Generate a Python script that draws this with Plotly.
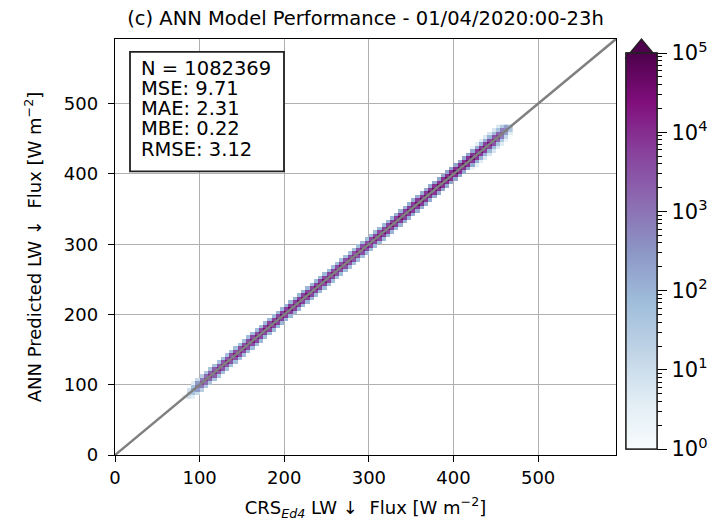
import numpy as np
import plotly.graph_objects as go

# ---------------- data ----------------
title_text = "(c) ANN Model Performance - 01/04/2020:00-23h"
x_label = "CRS<sub><i>Ed4</i></sub> LW ↓  Flux [W m<sup>−2</sup>]"
y_label = "ANN Predicted LW ↓  Flux [W m<sup>−2</sup>]"
stats_lines = ["N = 1082369", "MSE: 9.71", "MAE: 2.31", "MBE: 0.22", "RMSE: 3.12"]

axis_ticks = [0, 100, 200, 300, 400, 500]
axis_max = 592
one_to_one = [0, 600]

# 2D histogram bins (5 W m-2 wide), centres from 82.5 to 467.5
bin_width = 5
bin_centers = list(np.arange(82.5, 470, bin_width))

# counts in the diagonal cell (observed bin == predicted bin)
count_core = [3, 22, 140, 900, 3800, 7800, 11500, 14000, 16500, 18500,
              20500, 21800, 22800, 24000, 25200, 26200, 27300, 28500, 29700, 30800,
              32700, 34500, 36800, 38200, 40200, 41200, 42000, 40800, 39000, 37200,
              35200, 34200, 32200, 30600, 29200, 27300, 25500, 24300, 23200, 22500,
              22200, 22800, 24000, 25800, 27700, 29700, 31500, 33700, 36000, 37800,
              39700, 41700, 43500, 45700, 48000, 50200, 52500, 54300, 56200, 58200,
              60000, 62200, 64200, 65200, 66300, 65700, 63700, 60700, 56700, 51000,
              44200, 36000, 26200, 16500, 8200, 2700, 520, 60]
# counts one bin off the diagonal
count_off1 = [0, 9, 54, 270, 760, 1260, 1710, 2070, 2340, 2610,
              2880, 3060, 3240, 3420, 3600, 3780, 3960, 4140, 4320, 4500,
              4770, 5040, 5310, 5580, 5850, 5940, 6030, 5850, 5670, 5400,
              5130, 4950, 4680, 4410, 4230, 3960, 3690, 3510, 3330, 3240,
              3200, 3290, 3460, 3690, 3960, 4230, 4500, 4860, 5130, 5400,
              5670, 5940, 6210, 6480, 6840, 7110, 7380, 7650, 7920, 8190,
              8460, 8730, 9000, 9180, 9360, 9270, 9000, 8640, 8100, 7380,
              6480, 5400, 4140, 2880, 1620, 680, 220, 36]
# counts two bins off the diagonal
count_off2 = [0, 1, 4, 12, 25, 35, 42, 48, 52, 55,
              58, 60, 62, 64, 66, 68, 70, 72, 74, 76,
              80, 84, 88, 92, 96, 98, 100, 98, 94, 90,
              86, 83, 80, 76, 73, 70, 67, 65, 62, 61,
              60, 62, 65, 68, 72, 76, 80, 85, 90, 95,
              100, 105, 110, 115, 120, 126, 132, 138, 144, 150,
              156, 162, 168, 172, 175, 172, 168, 160, 150, 138,
              125, 110, 92, 72, 52, 32, 14, 4]
# counts three bins off the diagonal (only the upper end of the range)
count_off3 = [0, 0, 0, 0, 0, 0, 0, 0, 0, 0,
              0, 0, 0, 0, 0, 0, 0, 0, 0, 0,
              0, 0, 0, 0, 0, 0, 0, 0, 0, 0,
              0, 0, 0, 0, 0, 0, 0, 0, 0, 0,
              0, 0, 0, 0, 0, 0, 0, 0, 0, 0,
              0, 0, 0, 0, 0, 0, 0, 0, 0, 0,
              0, 0, 0, 0, 0, 0, 0, 0, 2, 3,
              4, 5, 6, 6, 5, 4, 2, 1]

cbar_exponents = [0, 1, 2, 3, 4, 5]
cbar_minor_mantissas = [2, 3, 4, 5, 6, 7, 8, 9]

bupu = ["#f7fcfd", "#e0ecf4", "#bfd3e6", "#9ebcda", "#8c96c6",
        "#8c6bb1", "#88419d", "#810f7c", "#4d004b"]

# ---------------- build the 2D histogram grid ----------------
n = len(bin_centers)
z = [[None] * n for _ in range(n)]
for i in range(n):
    for k, arr in ((0, count_core), (1, count_off1), (2, count_off2), (3, count_off3)):
        if arr[i] <= 0:
            continue
        for s in ((0,) if k == 0 else (1, -1)):
            j = i + s * k
            if 0 <= j < n:
                z[j][i] = float(np.log10(arr[i]))

# ---------------- layout geometry (viewport pixels) ----------------
VW, VH = 725, 526
BODY = 8                      # default page margin around the plot div
W, H = VW - BODY, VH - BODY   # figure size
PL, PR, PT, PB = 115, 616, 39, 460   # plot area in viewport pixels


def fx(px):
    return (px - PL) / (PR - PL)


def fy(py):
    return (PB - py) / (PB - PT)


FONT = "DejaVu Sans"
colorscale = [[i / (len(bupu) - 1), c] for i, c in enumerate(bupu)]

CB_L, CB_W, CB_B, CB_T, CB_TIP = 626, 31, 454, 58, 39

fig = go.Figure()

fig.add_trace(go.Scatter(x=one_to_one, y=one_to_one, mode="lines",
                         line=dict(color="#808080", width=2.5),
                         hoverinfo="skip", showlegend=False))

fig.add_trace(go.Heatmap(x=bin_centers, y=bin_centers, z=z, coloraxis="coloraxis",
                         hoverongaps=False, showlegend=False))

# dummy trace carrying the minor-tick colorbar
fig.add_trace(go.Scatter(x=[None], y=[None], mode="markers",
                         marker=dict(color=[0], coloraxis="coloraxis2"),
                         showlegend=False, hoverinfo="skip"))

major_vals = cbar_exponents
major_text = [f"10<sup>{e}</sup>" for e in cbar_exponents]
minor_vals = [float(np.log10(m * 10 ** e)) for e in cbar_exponents[:-1] for m in cbar_minor_mantissas]

cb_common = dict(thicknessmode="pixels", thickness=CB_W, lenmode="pixels",
                 len=CB_B - CB_T, x=fx(CB_L), xanchor="left", xpad=0,
                 y=fy(CB_B), yanchor="bottom", ypad=0,
                 outlinewidth=1.4, outlinecolor="#222222")

fig.update_layout(
    width=W, height=H,
    margin=dict(l=PL - BODY, r=VW - PR, t=PT - BODY, b=VH - PB, pad=0),
    paper_bgcolor="white", plot_bgcolor="white",
    font=dict(family=FONT, size=18, color="black"),
    title=dict(text=title_text, x=fx((PL + PR) / 2), xref="paper", xanchor="center",
               y=1 - (18 - BODY) / H, yref="container", yanchor="middle",
               font=dict(size=19.5, family=FONT, color="black")),
    showlegend=False,
    coloraxis=dict(colorscale=colorscale, cmin=0, cmax=5,
                   colorbar=dict(tickmode="array", tickvals=major_vals, ticktext=major_text,
                                 ticks="outside", ticklen=10, tickwidth=1.4, tickcolor="black",
                                 tickfont=dict(size=21, family=FONT, color="black"),
                                 **cb_common)),
    coloraxis2=dict(colorscale=colorscale, cmin=0, cmax=5,
                    colorbar=dict(tickmode="array", tickvals=minor_vals,
                                  ticks="outside", ticklen=5, tickwidth=1.0, tickcolor="black",
                                  showticklabels=False, **cb_common)),
)

axis_common = dict(range=[0, axis_max], tickmode="array", tickvals=axis_ticks,
                   showgrid=True, gridcolor="#b0b0b0", gridwidth=1.4,
                   showline=True, linecolor="black", linewidth=1.4, mirror=True,
                   ticks="outside", ticklen=6, tickwidth=1.4, tickcolor="black",
                   zeroline=False, layer="above traces",
                   tickfont=dict(size=18, family=FONT, color="black"))

fig.update_xaxes(title=dict(text=x_label, font=dict(size=18, family=FONT), standoff=14), **axis_common)
fig.update_yaxes(title=dict(text=y_label, font=dict(size=18, family=FONT), standoff=17),
                 ticklabelstandoff=6, **axis_common)

# colorbar "extend max" triangle
fig.add_shape(type="path", xref="paper", yref="paper",
              path=(f"M {fx(CB_L)} {fy(CB_T)} L {fx(CB_L + CB_W)} {fy(CB_T)} "
                    f"L {fx(CB_L + CB_W / 2)} {fy(CB_TIP)} Z"),
              fillcolor=bupu[-1], line=dict(color="#222222", width=1.4), layer="above")

# statistics box
BOX_L, BOX_T, BOX_R, BOX_B = 130, 52, 284, 173
fig.add_shape(type="rect", xref="paper", yref="paper",
              x0=fx(BOX_L), x1=fx(BOX_R), y0=fy(BOX_B), y1=fy(BOX_T),
              fillcolor="white", line=dict(color="#222222", width=1.8), layer="above")
LINE0, LINE_STEP = 68.5, 20.5
for idx, line in enumerate(stats_lines):
    fig.add_annotation(text=line, xref="paper", yref="paper",
                       x=fx(139), y=fy(LINE0 + idx * LINE_STEP),
                       xanchor="left", yanchor="middle", showarrow=False,
                       font=dict(size=19.5, family=FONT, color="black"))

fig.write_html("out.html")
